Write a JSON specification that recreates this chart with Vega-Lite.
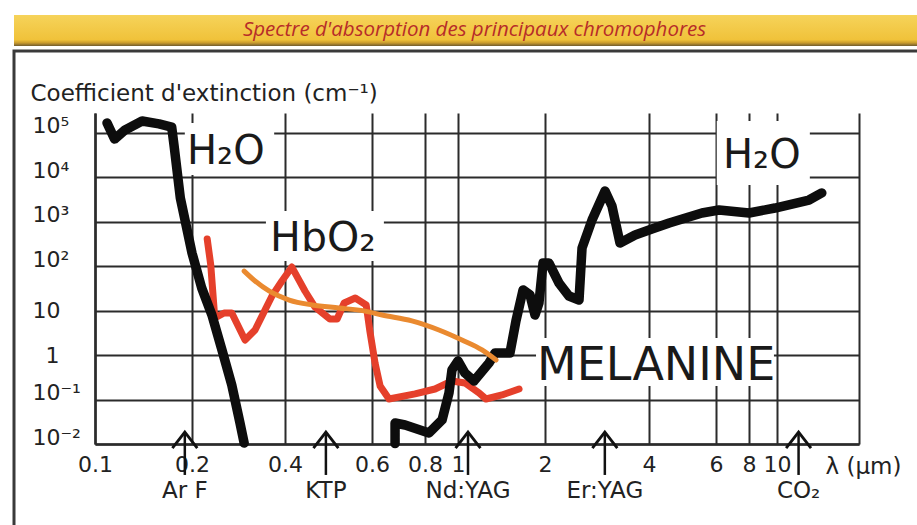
{
  "$schema": "https://vega.github.io/schema/vega-lite/v6.json",
  "padding": {"left": 12, "top": 15, "right": 0, "bottom": 0},
  "background": "#ffffff",
  "spacing": 3,
  "datasets": {
    "curves": [
      {"s":"H2O","seg":1,"i":1,"x":0.109,"y":168000},
      {"s":"H2O","seg":1,"i":2,"x":0.115,"y":73000},
      {"s":"H2O","seg":1,"i":3,"x":0.124,"y":117000},
      {"s":"H2O","seg":1,"i":4,"x":0.140,"y":186000},
      {"s":"H2O","seg":1,"i":5,"x":0.158,"y":160000},
      {"s":"H2O","seg":1,"i":6,"x":0.173,"y":136000},
      {"s":"H2O","seg":1,"i":7,"x":0.176,"y":51000},
      {"s":"H2O","seg":1,"i":8,"x":0.184,"y":3440},
      {"s":"H2O","seg":1,"i":9,"x":0.2,"y":199},
      {"s":"H2O","seg":1,"i":10,"x":0.215,"y":32.4},
      {"s":"H2O","seg":1,"i":11,"x":0.232,"y":8.0},
      {"s":"H2O","seg":1,"i":12,"x":0.25,"y":1.31},
      {"s":"H2O","seg":1,"i":13,"x":0.269,"y":0.213},
      {"s":"H2O","seg":1,"i":14,"x":0.286,"y":0.0297},
      {"s":"H2O","seg":1,"i":15,"x":0.295,"y":0.0105},
      {"s":"H2O","seg":2,"i":16,"x":0.680,"y":0.0102},
      {"s":"H2O","seg":2,"i":17,"x":0.680,"y":0.0297},
      {"s":"H2O","seg":2,"i":18,"x":0.718,"y":0.0268},
      {"s":"H2O","seg":2,"i":19,"x":0.822,"y":0.0177},
      {"s":"H2O","seg":2,"i":20,"x":0.898,"y":0.0347},
      {"s":"H2O","seg":2,"i":21,"x":0.941,"y":0.141},
      {"s":"H2O","seg":2,"i":22,"x":0.960,"y":0.464},
      {"s":"H2O","seg":2,"i":23,"x":1.0,"y":0.738},
      {"s":"H2O","seg":2,"i":24,"x":1.057,"y":0.396},
      {"s":"H2O","seg":2,"i":25,"x":1.136,"y":0.262},
      {"s":"H2O","seg":2,"i":26,"x":1.28,"y":0.665},
      {"s":"H2O","seg":2,"i":27,"x":1.343,"y":1.12},
      {"s":"H2O","seg":2,"i":28,"x":1.513,"y":1.12},
      {"s":"H2O","seg":2,"i":29,"x":1.587,"y":5.9},
      {"s":"H2O","seg":2,"i":30,"x":1.679,"y":29.3},
      {"s":"H2O","seg":2,"i":31,"x":1.775,"y":22.6},
      {"s":"H2O","seg":2,"i":32,"x":1.847,"y":8.0},
      {"s":"H2O","seg":2,"i":33,"x":1.906,"y":14.9},
      {"s":"H2O","seg":2,"i":34,"x":1.969,"y":118},
      {"s":"H2O","seg":2,"i":35,"x":2.054,"y":118},
      {"s":"H2O","seg":2,"i":36,"x":2.196,"y":42},
      {"s":"H2O","seg":2,"i":37,"x":2.347,"y":21.4},
      {"s":"H2O","seg":2,"i":38,"x":2.509,"y":17.4},
      {"s":"H2O","seg":2,"i":39,"x":2.56,"y":258},
      {"s":"H2O","seg":2,"i":40,"x":2.736,"y":1100},
      {"s":"H2O","seg":2,"i":41,"x":2.984,"y":4950},
      {"s":"H2O","seg":2,"i":42,"x":3.125,"y":2280},
      {"s":"H2O","seg":2,"i":43,"x":3.297,"y":334},
      {"s":"H2O","seg":2,"i":44,"x":3.646,"y":506},
      {"s":"H2O","seg":2,"i":45,"x":4.07,"y":690},
      {"s":"H2O","seg":2,"i":46,"x":4.52,"y":942},
      {"s":"H2O","seg":2,"i":47,"x":5.51,"y":1585},
      {"s":"H2O","seg":2,"i":48,"x":6.16,"y":1850},
      {"s":"H2O","seg":2,"i":49,"x":8.0,"y":1585},
      {"s":"H2O","seg":2,"i":50,"x":9.84,"y":2050},
      {"s":"H2O","seg":2,"i":51,"x":13.1,"y":3100},
      {"s":"H2O","seg":2,"i":52,"x":14.6,"y":4470},
      {"s":"HbO2","seg":1,"i":1,"x":0.224,"y":411},
      {"s":"HbO2","seg":1,"i":2,"x":0.230,"y":107},
      {"s":"HbO2","seg":1,"i":3,"x":0.237,"y":6.86},
      {"s":"HbO2","seg":1,"i":4,"x":0.254,"y":8.9},
      {"s":"HbO2","seg":1,"i":5,"x":0.269,"y":8.9},
      {"s":"HbO2","seg":1,"i":6,"x":0.297,"y":2.19},
      {"s":"HbO2","seg":1,"i":7,"x":0.320,"y":3.68},
      {"s":"HbO2","seg":1,"i":8,"x":0.363,"y":21.4},
      {"s":"HbO2","seg":1,"i":9,"x":0.391,"y":46.7},
      {"s":"HbO2","seg":1,"i":10,"x":0.413,"y":96},
      {"s":"HbO2","seg":1,"i":11,"x":0.439,"y":27.8},
      {"s":"HbO2","seg":1,"i":12,"x":0.460,"y":12.1},
      {"s":"HbO2","seg":1,"i":13,"x":0.493,"y":6.5},
      {"s":"HbO2","seg":1,"i":14,"x":0.510,"y":6.5},
      {"s":"HbO2","seg":1,"i":15,"x":0.527,"y":14.9},
      {"s":"HbO2","seg":1,"i":16,"x":0.555,"y":19.3},
      {"s":"HbO2","seg":1,"i":17,"x":0.584,"y":13.5},
      {"s":"HbO2","seg":1,"i":18,"x":0.594,"y":3.5},
      {"s":"HbO2","seg":1,"i":19,"x":0.610,"y":0.665},
      {"s":"HbO2","seg":1,"i":20,"x":0.627,"y":0.202},
      {"s":"HbO2","seg":1,"i":21,"x":0.658,"y":0.103},
      {"s":"HbO2","seg":1,"i":22,"x":0.758,"y":0.134},
      {"s":"HbO2","seg":1,"i":23,"x":0.856,"y":0.173},
      {"s":"HbO2","seg":1,"i":24,"x":0.960,"y":0.262},
      {"s":"HbO2","seg":1,"i":25,"x":1.057,"y":0.236},
      {"s":"HbO2","seg":1,"i":26,"x":1.182,"y":0.141},
      {"s":"HbO2","seg":1,"i":27,"x":1.25,"y":0.103},
      {"s":"HbO2","seg":1,"i":28,"x":1.42,"y":0.127},
      {"s":"HbO2","seg":1,"i":29,"x":1.626,"y":0.173},
      {"s":"Mel","seg":1,"i":1,"x":0.295,"y":78},
      {"s":"Mel","seg":1,"i":2,"x":0.320,"y":46.7},
      {"s":"Mel","seg":1,"i":3,"x":0.355,"y":27.8},
      {"s":"Mel","seg":1,"i":4,"x":0.408,"y":17.4},
      {"s":"Mel","seg":1,"i":5,"x":0.454,"y":13.5},
      {"s":"Mel","seg":1,"i":6,"x":0.514,"y":11.5},
      {"s":"Mel","seg":1,"i":7,"x":0.578,"y":9.9},
      {"s":"Mel","seg":1,"i":8,"x":0.634,"y":8.0},
      {"s":"Mel","seg":1,"i":9,"x":0.745,"y":5.9},
      {"s":"Mel","seg":1,"i":10,"x":0.879,"y":3.68},
      {"s":"Mel","seg":1,"i":11,"x":1.032,"y":2.19},
      {"s":"Mel","seg":1,"i":12,"x":1.211,"y":1.31},
      {"s":"Mel","seg":1,"i":13,"x":1.354,"y":0.778}
    ],
    "labels": [
      {"t":"H₂O","x":0.193,"y":20000},
      {"t":"HbO₂","x":0.358,"y":221},
      {"t":"MELANINE","x":1.876,"y":0.276},
      {"t":"H₂O","x":6.38,"y":16300}
    ],
    "boxes": [
      {"x":0.190,"x2":0.369,"y":11300,"y2":168000},
      {"x":0.347,"x2":0.640,"y":131,"y2":1754},
      {"x":6.04,"x2":13.2,"y":6760,"y2":186000},
      {"x":1.862,"x2":9.76,"y":0.202,"y2":2.43}
    ],
    "lasers": [
      {"n":"Ar F","x":0.19},
      {"n":"KTP","x":0.484},
      {"n":"Nd:YAG","x":1.083},
      {"n":"Er:YAG","x":2.98},
      {"n":"CO₂","x":12.0}
    ]
  },
  "vconcat": [
    {
      "width": 905,
      "height": 31,
      "view": {"stroke": null, "fill": "#f2c544"},
      "data": {"values": [{"t": "Spectre d'absorption des principaux chromophores"}]},
      "layer": [
        {
          "mark": {"type": "rect", "fill": {"gradient": "linear", "x1": 0, "y1": 0, "x2": 0, "y2": 1, "stops": [{"offset": 0, "color": "#f6d35a"}, {"offset": 0.8, "color": "#f0c23a"}, {"offset": 0.9, "color": "#c89a2e"}, {"offset": 1, "color": "#6f5b30"}]}},
          "encoding": {}
        },
        {
          "mark": {"type": "text", "font": "Open Sans", "fontStyle": "italic", "fontSize": 20.5, "color": "#b72c29", "dx": 8, "dy": -1},
          "encoding": {"text": {"field": "t"}}
        }
      ]
    },
    {
      "width": 912,
      "height": 485,
      "view": {"stroke": "#3a3a3a", "strokeWidth": 3, "fill": "#ffffff"},
      "layer": [
        {
          "data": {"name": "boxes"},
          "mark": {"type": "rect", "fill": "#ffffff", "stroke": null},
          "encoding": {
            "x": {
              "field": "x", "type": "quantitative",
              "scale": {"type": "log", "domain": [0.1, 0.2, 0.4, 0.6, 0.8, 1, 2, 4, 6, 8, 10, 20], "range": [81, 178, 271, 358, 411, 444, 531, 635, 702, 735, 763, 845], "nice": false, "zero": false},
              "axis": {
                "orient": "top", "offset": -393,
                "values": [0.1, 0.2, 0.4, 0.6, 0.8, 1, 2, 4, 6, 8, 10, 20],
                "labelExpr": "datum.value > 15 ? '' : '' + datum.value",
                "grid": true, "gridColor": "#2b2b2b", "gridWidth": 2, "gridOpacity": 1,
                "domain": true, "domainColor": "#2b2b2b", "domainWidth": 2.5,
                "ticks": false, "tickSize": 0,
                "labelPadding": -10, "labelBaseline": "top", "labelAlign": "center",
                "labelFont": "DejaVu Sans", "labelFontSize": 22, "labelColor": "#222222",
                "labelOverlap": false, "labelFlush": false, "labelBound": false,
                "title": "λ (µm)", "titleX": 811, "titleY": 29, "titleAlign": "left", "titleBaseline": "alphabetic", "titleAngle": 0,
                "titleFont": "DejaVu Sans", "titleFontSize": 23, "titleFontWeight": "normal", "titleColor": "#222222"
              }
            },
            "x2": {"field": "x2"},
            "y": {
              "field": "y", "type": "quantitative",
              "scale": {"type": "log", "domain": [0.01, 281838], "range": [393, 62], "nice": false, "zero": false},
              "axis": {
                "orient": "left", "offset": -81,
                "values": [0.01, 0.1, 1, 10, 100, 1000, 10000, 100000],
                "labelExpr": "datum.value < 0.05 ? '10⁻²' : datum.value < 0.5 ? '10⁻¹' : datum.value < 5 ? '1' : datum.value < 50 ? '10' : datum.value < 500 ? '10²' : datum.value < 5000 ? '10³' : datum.value < 50000 ? '10⁴' : '10⁵'",
                "grid": true, "gridColor": "#2b2b2b", "gridWidth": 2, "gridOpacity": 1,
                "domain": true, "domainColor": "#2b2b2b", "domainWidth": 2.5,
                "ticks": false, "tickSize": 0,
                "labelPadding": {"condition": {"test": "datum.value > 0.5 && datum.value < 5", "value": 50}, "value": 63},
                "labelAlign": "left",
                "labelBaseline": {"condition": {"test": "datum.value > 0.5 && datum.value < 50", "value": "middle"}, "value": "alphabetic"},
                "labelFont": "DejaVu Sans", "labelFontSize": 22, "labelColor": "#222222",
                "labelOverlap": false, "labelFlush": false, "labelBound": false,
                "title": "Coefficient d'extinction (cm⁻¹)", "titleX": -65, "titleY": 49, "titleAlign": "left", "titleBaseline": "alphabetic", "titleAngle": 0,
                "titleFont": "DejaVu Sans", "titleFontSize": 23, "titleFontWeight": "normal", "titleColor": "#222222"
              }
            },
            "y2": {"field": "y2"}
          }
        },
        {
          "data": {"name": "curves"},
          "transform": [{"filter": "datum.s == 'HbO2'"}],
          "mark": {"type": "line", "color": "#e5402b", "strokeWidth": 7, "strokeCap": "round", "strokeJoin": "round"},
          "encoding": {
            "x": {"field": "x", "type": "quantitative"},
            "y": {"field": "y", "type": "quantitative"},
            "order": {"field": "i", "type": "quantitative"}
          }
        },
        {
          "data": {"name": "curves"},
          "transform": [{"filter": "datum.s == 'H2O'"}],
          "mark": {"type": "line", "color": "#0d0d0d", "strokeWidth": 9.5, "strokeCap": "round", "strokeJoin": "round"},
          "encoding": {
            "x": {"field": "x", "type": "quantitative"},
            "y": {"field": "y", "type": "quantitative"},
            "detail": {"field": "seg", "type": "nominal"},
            "order": {"field": "i", "type": "quantitative"}
          }
        },
        {
          "data": {"name": "curves"},
          "transform": [{"filter": "datum.s == 'Mel'"}],
          "mark": {"type": "line", "color": "#ea8a30", "strokeWidth": 5, "strokeCap": "round", "strokeJoin": "round", "interpolate": "monotone"},
          "encoding": {
            "x": {"field": "x", "type": "quantitative"},
            "y": {"field": "y", "type": "quantitative"},
            "order": {"field": "i", "type": "quantitative"}
          }
        },
        {
          "data": {"name": "labels"},
          "transform": [{"filter": "datum.t == 'H₂O'"}],
          "mark": {"type": "text", "align": "left", "baseline": "alphabetic", "font": "DejaVu Sans", "fontSize": 40, "color": "#1a1a1a"},
          "encoding": {
            "x": {"field": "x", "type": "quantitative"},
            "y": {"field": "y", "type": "quantitative"},
            "text": {"field": "t"}
          }
        },
        {
          "data": {"name": "labels"},
          "transform": [{"filter": "datum.t == 'HbO₂'"}],
          "mark": {"type": "text", "align": "left", "baseline": "alphabetic", "font": "DejaVu Sans", "fontSize": 41, "color": "#1a1a1a"},
          "encoding": {
            "x": {"field": "x", "type": "quantitative"},
            "y": {"field": "y", "type": "quantitative"},
            "text": {"field": "t"}
          }
        },
        {
          "data": {"name": "labels"},
          "transform": [{"filter": "datum.t == 'MELANINE'"}],
          "mark": {"type": "text", "align": "left", "baseline": "alphabetic", "font": "DejaVu Sans", "fontSize": 46, "color": "#1a1a1a"},
          "encoding": {
            "x": {"field": "x", "type": "quantitative"},
            "y": {"field": "y", "type": "quantitative"},
            "text": {"field": "t"}
          }
        },
        {
          "data": {"name": "lasers"},
          "mark": {"type": "rule", "color": "#111111", "strokeWidth": 2.5},
          "encoding": {
            "x": {"field": "x", "type": "quantitative"},
            "y": {"datum": 0.00201, "type": "quantitative"},
            "y2": {"datum": 0.0186}
          }
        },
        {
          "data": {"name": "lasers"},
          "mark": {"type": "point", "shape": "M-1,1.3L0,0L1,1.3", "size": 620, "filled": false, "stroke": "#111111", "strokeWidth": 2.8, "opacity": 1},
          "encoding": {
            "x": {"field": "x", "type": "quantitative"},
            "y": {"datum": 0.0186, "type": "quantitative"}
          }
        },
        {
          "data": {"name": "lasers"},
          "mark": {"type": "text", "align": "center", "baseline": "alphabetic", "font": "DejaVu Sans", "fontSize": 23, "color": "#222222"},
          "encoding": {
            "x": {"field": "x", "type": "quantitative"},
            "y": {"datum": 0.00061, "type": "quantitative"},
            "text": {"field": "n"}
          }
        }
      ]
    }
  ]
}
